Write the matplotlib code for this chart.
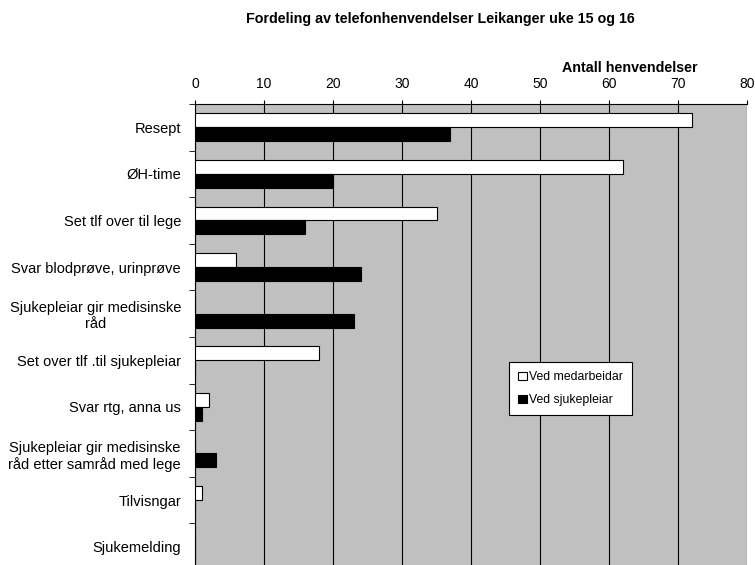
import numpy as np
import matplotlib.pyplot as plt

plt.rcParams['font.family'] = ['Liberation Sans', 'DejaVu Sans']

# kategoriar og verdiar
kategoriar = ['Resept', 'ØH-time', 'Set tlf over til lege', 'Svar blodprøve, urinprøve',
              'Sjukepleiar gir medisinske\nråd', 'Set over tlf .til sjukepleiar',
              'Svar rtg, anna us', 'Sjukepleiar gir medisinske\nråd etter samråd med lege',
              'Tilvisngar', 'Sjukemelding']
ved_medarbeidar = [72, 62, 35, 6, 0, 18, 2, 0, 1, 0]
ved_sjukepleiar = [37, 20, 16, 24, 23, 0, 1, 3, 0, 0]
x_ticks = [0, 10, 20, 30, 40, 50, 60, 70, 80]

fig = plt.figure(figsize=(7.55, 5.65), dpi=100)
# plotområdet går litt under kanten av biletet
ax = fig.add_axes([195/755, -5/565, 552/755, 466/565])

y = np.arange(len(kategoriar))
h = 0.3
ax.barh(y - h/2, ved_medarbeidar, height=h, color='white', edgecolor='black', linewidth=0.8,
        label='Ved medarbeidar', zorder=3)
ax.barh(y + h/2, ved_sjukepleiar, height=h, color='black', edgecolor='black', linewidth=0.8,
        label='Ved sjukepleiar', zorder=3)

ax.set_facecolor('#C0C0C0')
ax.set_xlim(0, 80)
ax.set_ylim(len(kategoriar) - 0.5, -0.5)
ax.set_xticks(x_ticks)
ax.xaxis.tick_top()
ax.tick_params(axis='x', direction='out', length=3, labelsize=10, pad=6)
ax.grid(axis='x', color='black', linewidth=0.8, zorder=0)

ax.set_yticks(y)
ax.set_yticklabels(kategoriar, fontsize=10.5)
ax.tick_params(axis='y', which='major', length=0, pad=10)
ax.set_yticks(np.arange(-0.5, len(kategoriar)), minor=True)
ax.tick_params(axis='y', which='minor', direction='out', length=4)
for lab in ax.get_yticklabels():
    lab.set_horizontalalignment('right')
    lab.set_multialignment('center')

for s in ['right', 'bottom']:
    ax.spines[s].set_visible(False)

fig.text(440/755, 1 - 19/565, 'Fordeling av telefonhenvendelser Leikanger uke 15 og 16',
         ha='center', va='center', fontsize=10.3, fontweight='bold')
fig.text(698/755, 1 - 68/565, 'Antall henvendelser', ha='right', va='center',
         fontsize=10.3, fontweight='bold')

leg = ax.legend(loc='upper left', bbox_to_anchor=((509 - 195)/552, 1 - (362 - 104)/466),
                fontsize=8.8, frameon=True, fancybox=False, edgecolor='black', framealpha=1,
                handlelength=0.7, handleheight=0.7, handletextpad=0.2, labelspacing=0.9,
                borderpad=0.75, borderaxespad=0)
leg.get_frame().set_linewidth(0.8)

fig.savefig('out.png', dpi=100)
